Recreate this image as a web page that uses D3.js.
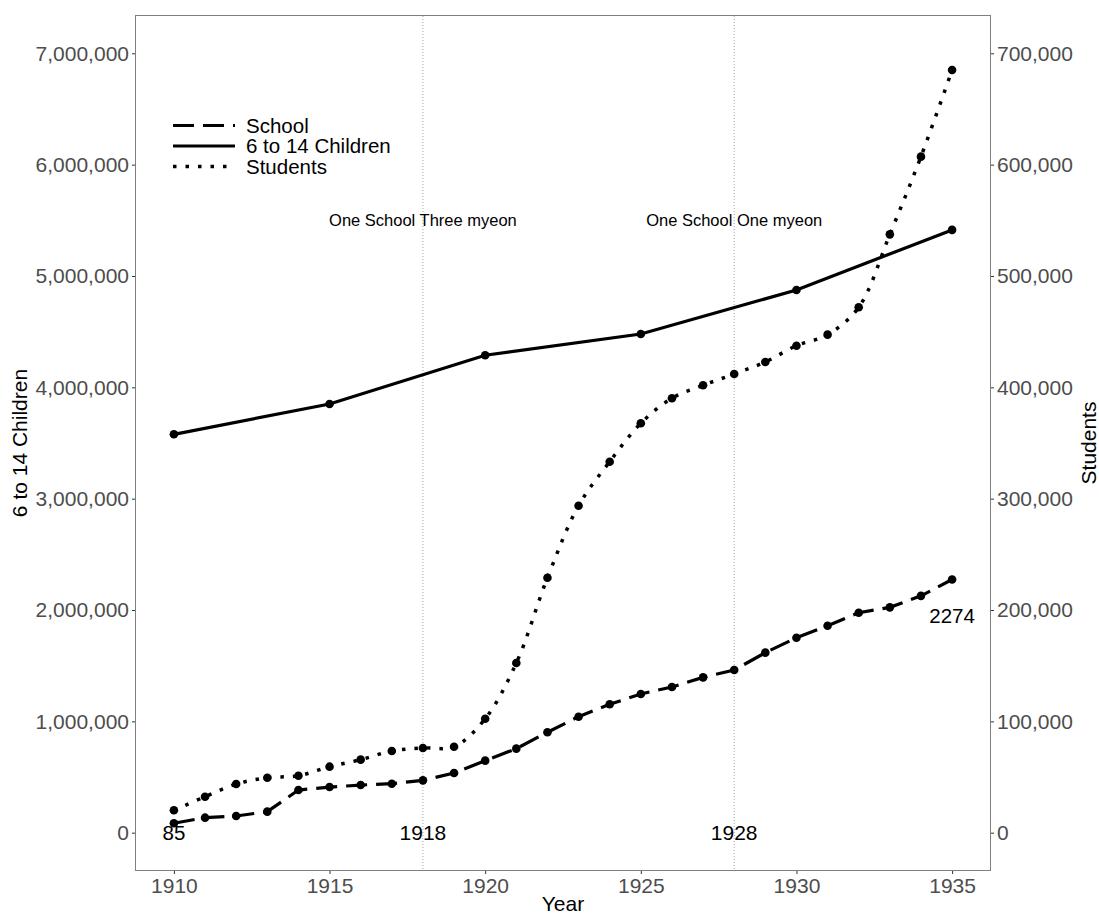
<!DOCTYPE html>
<html><head><meta charset="utf-8">
<script src="https://cdn.jsdelivr.net/npm/d3@7"></script>
<style>body{margin:0;background:#fff}text{font-family:"Liberation Sans",Arial,sans-serif}</style>
</head><body>
<svg id="chart" width="1099" height="915"></svg>
<script>
// ---- data ----
const years = [1910,1911,1912,1913,1914,1915,1916,1917,1918,1919,1920,1921,1922,1923,1924,1925,1926,1927,1928,1929,1930,1931,1932,1933,1934,1935];
const schools = [85,135,150,189,383,410,428,440,470,536,647,755,902,1042,1153,1246,1309,1395,1461,1617,1751,1859,1976,2024,2127,2274];
const students = [20100,32300,43700,49400,51200,59300,65600,73400,76100,77200,102400,152400,229000,293700,333200,367700,390200,401800,412000,422800,437400,447300,471900,537400,607200,685000];
const childYears = [1910,1915,1920,1925,1930,1935];
const children = [3578000,3850000,4288000,4479000,4874000,5414000];
const leftTicks = [0,1000000,2000000,3000000,4000000,5000000,6000000,7000000];
const rightTicks = [0,100000,200000,300000,400000,500000,600000,700000];
const xTicks = [1910,1915,1920,1925,1930,1935];
const markYears = [1918,1928];
const markLabels = ["One School Three myeon","One School One myeon"];
const schoolScale = 1000, studentScale = 10;

// ---- layout ----
const P = {l:135, t:15, r:991, b:871};
const svg = d3.select("#chart");
const x = d3.scaleLinear().domain([1908.75,1936.25]).range([P.l,P.r]);
const y = d3.scaleLinear().domain([-344000,7344000]).range([P.b,P.t]);
const yR = d3.scaleLinear().domain([-34400,734400]).range([P.b,P.t]);
const fmt = d3.format(",");

// panel border
svg.append("rect").attr("x",P.l+0.5).attr("y",P.t+0.5).attr("width",P.r-P.l-1).attr("height",P.b-P.t-1)
  .attr("fill","none").attr("stroke","#7f7f7f").attr("stroke-width",1);

// axes
const axL = svg.append("g").attr("transform",`translate(${P.l},0)`)
  .call(d3.axisLeft(y).tickValues(leftTicks).tickFormat(fmt).tickSize(3).tickPadding(3));
const axR = svg.append("g").attr("transform",`translate(${P.r},0)`)
  .call(d3.axisRight(yR).tickValues(rightTicks).tickFormat(fmt).tickSize(3).tickPadding(3));
const axB = svg.append("g").attr("transform",`translate(0,${P.b})`)
  .call(d3.axisBottom(x).tickValues(xTicks).tickFormat(d3.format("d")).tickSize(3).tickPadding(4));
[axL,axR,axB].forEach(a=>{
  a.select(".domain").remove();
  a.selectAll(".tick line").attr("stroke","#333");
  a.selectAll(".tick text").attr("fill","#4d4d4d").style("font-size","21px");
});

// axis titles
svg.append("text").attr("x",(P.l+P.r)/2).attr("y",911).attr("text-anchor","middle").style("font-size","21px").text("Year");
svg.append("text").attr("transform",`translate(27,${(P.t+P.b)/2}) rotate(-90)`).attr("text-anchor","middle").style("font-size","21px").text("6 to 14 Children");
svg.append("text").attr("transform",`translate(1096,${(P.t+P.b)/2}) rotate(-90)`).attr("text-anchor","middle").style("font-size","21px").text("Students");

// vertical reference lines
svg.selectAll(".vl").data(markYears).enter().append("line")
  .attr("x1",d=>x(d)).attr("x2",d=>x(d)).attr("y1",P.t+1).attr("y2",P.b-1)
  .attr("stroke","#a0a0a0").attr("stroke-width",1).attr("stroke-dasharray","1 2");

// lines
const schoolData = years.map((yr,i)=>({x:yr,y:schools[i]*schoolScale}));
const studentData = years.map((yr,i)=>({x:yr,y:students[i]*studentScale}));
const childData = childYears.map((yr,i)=>({x:yr,y:children[i]}));
const lineLin = d3.line().x(d=>x(d.x)).y(d=>y(d.y));
const lineSm = d3.line().x(d=>x(d.x)).y(d=>y(d.y)).curve(d3.curveCatmullRom.alpha(0.5));

svg.append("path").datum(childData).attr("d",lineLin).attr("fill","none").attr("stroke","#000").attr("stroke-width",3.2);
svg.append("path").datum(schoolData).attr("d",lineLin).attr("fill","none").attr("stroke","#000").attr("stroke-width",3.2).attr("stroke-dasharray","21 9");
svg.append("path").datum(studentData).attr("d",lineSm).attr("fill","none").attr("stroke","#000").attr("stroke-width",3.5).attr("stroke-dasharray","3.5 9");

// points
[childData,schoolData,studentData].forEach(ds=>{
  svg.append("g").selectAll("circle").data(ds).enter().append("circle")
    .attr("cx",d=>x(d.x)).attr("cy",d=>y(d.y)).attr("r",4.3).attr("fill","#000");
});

// annotations
svg.selectAll(".ml").data(markYears).enter().append("text")
  .attr("x",d=>x(d)).attr("y",y(0)).attr("dy","0.35em").attr("text-anchor","middle").style("font-size","21px").text(d=>d);
svg.selectAll(".mt").data(markYears).enter().append("text")
  .attr("x",d=>x(d)).attr("y",y(5500000)).attr("dy","0.35em").attr("text-anchor","middle").style("font-size","16.5px").text((d,i)=>markLabels[i]);
svg.append("text").attr("x",x(years[0])).attr("y",y(0)).attr("dy","0.35em").attr("text-anchor","middle").style("font-size","20.5px").text(schools[0]);
svg.append("text").attr("x",x(years[years.length-1])).attr("y",y(schools[schools.length-1]*schoolScale)+36).attr("dy","0.35em").attr("text-anchor","middle").style("font-size","20.5px").text(schools[schools.length-1]);

// legend
const legend = [{k:"School",dash:"21 9",w:3.2},{k:"6 to 14 Children",dash:null,w:3.2},{k:"Students",dash:"3.5 9",w:3.5}];
const lg = svg.append("g");
legend.forEach((d,i)=>{
  const cy = 125.5 + i*20.5;
  const l = lg.append("line").attr("x1",173).attr("x2",235).attr("y1",cy).attr("y2",cy).attr("stroke","#000").attr("stroke-width",d.w);
  if(d.dash) l.attr("stroke-dasharray",d.dash);
  lg.append("text").attr("x",246).attr("y",cy).attr("dy","0.35em").style("font-size","20.5px").text(d.k);
});
</script>
</body></html>
